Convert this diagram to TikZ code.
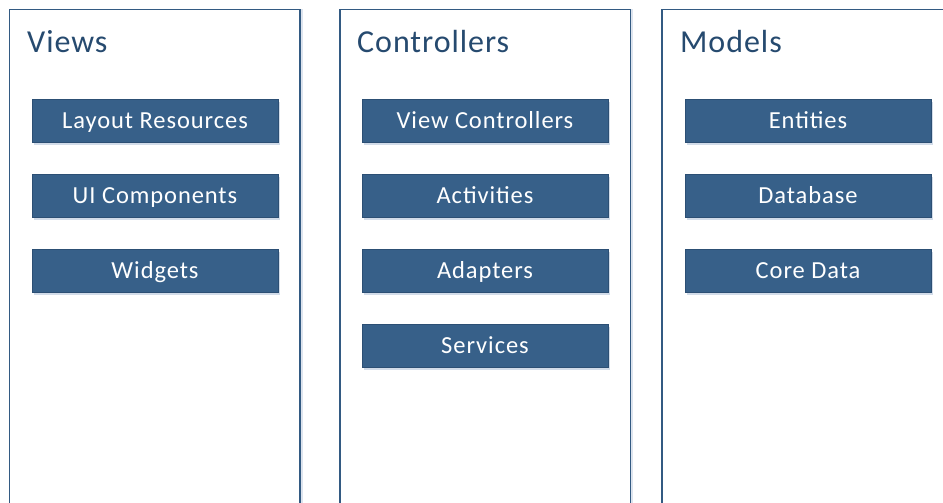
\documentclass[tikz,border=0pt]{standalone}
\usepackage{fontspec}
\setmainfont{Carlito}
\usetikzlibrary{shadows}
\definecolor{boxfill}{HTML}{376089}
\definecolor{boxline}{HTML}{2C4F74}
\definecolor{panelline}{HTML}{335A82}
\definecolor{titlecol}{HTML}{264A6F}
\definecolor{shadowcol}{HTML}{9DB3CF}
\tikzset{
  panel/.style={draw=panelline, line width=1.8pt, fill=white,
    drop shadow={shadow xshift=2.5pt, shadow yshift=0pt, fill=shadowcol, opacity=0.35}},
  item/.style={draw=boxline, line width=0.8pt, fill=boxfill, text=white,
    minimum width=246pt, minimum height=43pt, inner sep=0pt,
    text height=16.5pt, text depth=0pt,
    font=\fontsize{24.5}{26}\selectfont\addfontfeatures{LetterSpace=3.8},
    drop shadow={shadow xshift=1.5pt, shadow yshift=-3pt, fill=shadowcol, opacity=0.45}},
  ptitle/.style={anchor=base west, inner sep=0pt, text=titlecol,
    font=\fontsize{32}{34}\selectfont\addfontfeatures{LetterSpace=3}}
}
\begin{document}
\begin{tikzpicture}[x=1pt,y=-1pt]
\useasboundingbox (0,0) rectangle (943,503);
\begin{scope}
\clip (0,0) rectangle (943,503);
\path[panel] (9.5,9.5) rectangle (300,530);
\path[panel] (340,9.5) rectangle (630.5,530);
\path[panel] (662,9.5) rectangle (960,530);
\end{scope}
\node[ptitle] (tv) at (27,52.5) {Views};
\node[ptitle] (tc) at (357,52.5) {Controllers};
\node[ptitle] (tm) at (680,52.5) {Models};

\node[item] (v1) at (155,120.5) {Layout Resources};
\node[item] (v2) at (155,195.5) {UI Components};
\node[item] (v3) at (155,270.5) {Widgets};

\node[item] (c1) at (485,120.5) {View Controllers};
\node[item] (c2) at (485,195.5) {Activities};
\node[item] (c3) at (485,270.5) {Adapters};
\node[item] (c4) at (485,345.5) {Services};

\node[item] (m1) at (808,120.5) {Entities};
\node[item] (m2) at (808,195.5) {Database};
\node[item] (m3) at (808,270.5) {Core Data};
\end{tikzpicture}
\end{document}
